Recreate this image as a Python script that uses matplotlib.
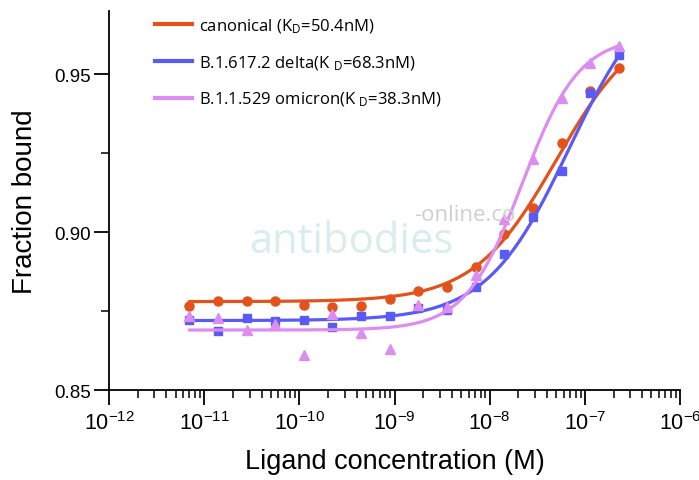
import numpy as np
import matplotlib
matplotlib.use("Agg")
import matplotlib.pyplot as plt
from matplotlib.ticker import LogLocator, MultipleLocator, FormatStrFormatter

plt.rcParams["font.family"] = ["Liberation Sans", "DejaVu Sans"]
plt.rcParams["mathtext.fontset"] = "custom"
plt.rcParams["mathtext.rm"] = "Liberation Sans"
plt.rcParams["mathtext.it"] = "Liberation Sans:italic"

# ligand concentration (M), 2-fold dilution series
conc = 2.28e-7 / 2.0 ** np.arange(15, -1, -1)

canonical = [0.8765, 0.8781, 0.8781, 0.8781, 0.8770, 0.8763, 0.8765, 0.8788,
             0.8815, 0.8825, 0.8890, 0.8993, 0.9077, 0.9283, 0.9446, 0.9520]
delta = [0.8721, 0.8687, 0.8728, 0.8719, 0.8721, 0.8701, 0.8735, 0.8735,
         0.8759, 0.8753, 0.8827, 0.8930, 0.9049, 0.9193, 0.9441, 0.9562]
omicron = [0.8735, 0.8727, 0.8690, 0.8709, 0.8611, 0.8740, 0.8680, 0.8630,
           0.8769, 0.8762, 0.8863, 0.9041, 0.9230, 0.9425, 0.9536, 0.9590]

labels = ["canonical (K$_\\mathregular{D}$=50.4nM)",
          "B.1.617.2 delta(K $_\\mathregular{D}$=68.3nM)",
          "B.1.1.529 omicron(K $_\\mathregular{D}$=38.3nM)"]
colors = ["#E4511B", "#5A5AF6", "#DD8CF2"]
markers = ["o", "s", "^"]

# fitted curve parameters: bottom, top, EC50 (M), hill slope
fits = [(0.8780, 0.968, 50.4e-9, 1.0),
        (0.8720, 0.981, 68.3e-9, 1.0),
        (0.8690, 0.962, 22.0e-9, 1.45)]


def hill(x, bottom, top, ec50, n):
    return bottom + (top - bottom) * x ** n / (x ** n + ec50 ** n)


fig = plt.figure(figsize=(6.99, 4.81), dpi=100)
ax = fig.add_axes([0.156, 0.187, 0.817, 0.788])

series = [canonical, delta, omicron]
xfit = np.logspace(np.log10(conc[0]), np.log10(conc[-1]), 300)
for i in [2, 1, 0]:
    ax.plot(conc, series[i], linestyle="none", marker=markers[i], color=colors[i],
            markersize=6.5 if markers[i] != "s" else 6, zorder=3 + i)
    ax.plot(xfit, hill(xfit, *fits[i]), color=colors[i], lw=2.3, zorder=3 + i,
            solid_capstyle="round")

ax.set_xscale("log")
ax.set_xlim(1e-12, 1e-6)
ax.set_ylim(0.85, 0.97)
ax.xaxis.set_major_locator(LogLocator(base=10, numticks=10))
ax.xaxis.set_minor_locator(LogLocator(base=10, subs=np.arange(2, 10), numticks=10))
ax.yaxis.set_major_locator(MultipleLocator(0.05))
ax.yaxis.set_minor_locator(MultipleLocator(0.025))
ax.yaxis.set_major_formatter(FormatStrFormatter("%.2f"))

for s in ["top", "right"]:
    ax.spines[s].set_visible(False)
for s in ["left", "bottom"]:
    ax.spines[s].set_linewidth(1.3)

ax.tick_params(axis="x", which="major", labelsize=15.5, length=11, width=1.3, pad=4)
ax.tick_params(axis="x", which="minor", length=5.5, width=1.1)
ax.tick_params(axis="y", which="major", labelsize=13.5, length=11, width=1.3, pad=2)
ax.tick_params(axis="y", which="minor", length=6, width=1.1)

ax.set_xlabel("Ligand concentration (M)", fontsize=19.5, labelpad=10)
ax.set_ylabel("Fraction bound", fontsize=20, labelpad=12)

# legend: lines only
handles = [plt.Line2D([], [], color=c, lw=3) for c in colors]
leg = ax.legend(handles, labels, loc="upper left", bbox_to_anchor=(0.055, 1.025),
                frameon=False, handlelength=2.2, handletextpad=0.4,
                labelspacing=1.1, prop={"family": "Open Sans", "size": 12})

# watermark
fig.text(0.357, 0.475, "antibodies", fontsize=30, color="#d8eded",
         family="Open Sans", zorder=0)
fig.text(0.592, 0.54, "-online.co", fontsize=16, color="#cfcfcf",
         family="Open Sans", zorder=0)

fig.savefig("out.png", dpi=100)
